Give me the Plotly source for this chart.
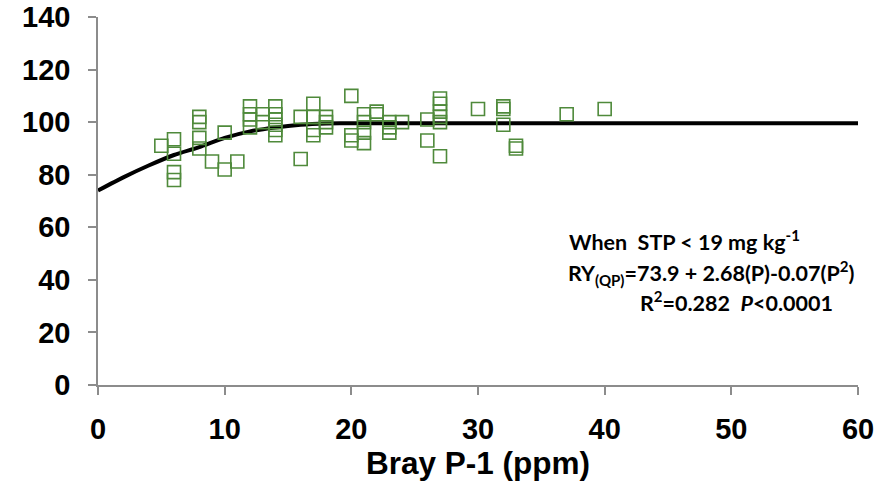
import plotly.graph_objects as go

# Observed points: Bray P-1 (ppm) vs relative yield
bray_p = [5, 6, 6, 6, 6, 8, 8, 8, 8, 9, 10, 10, 11,
          12, 12, 12, 12, 13, 13, 14, 14, 14, 14, 14, 14,
          16, 16, 17, 17, 17, 17, 18, 18, 18,
          20, 20, 20, 21, 21, 21, 21, 22, 22, 23, 23, 23, 24,
          26, 26, 27, 27, 27, 27, 27, 27, 30, 32, 32, 32, 33, 33, 37, 40]
rel_yield = [91, 93.5, 88, 81, 78, 102, 100, 94, 90, 85, 96, 82, 85,
             106, 103, 101, 98, 103, 100, 106, 103, 101, 99, 97, 95,
             102, 86, 107, 102, 97, 95, 102, 100, 98,
             110, 95, 93, 103, 100, 96, 92, 104, 103, 100, 98, 96, 100,
             101, 93, 109, 107, 104, 102, 100, 87, 105, 106, 105, 99, 91, 90, 103, 105]

# Fitted quadratic-plateau curve
curve_p = [0, 2, 4, 6, 8, 10, 12, 14, 16, 18, 19.1, 60]
curve_ry = [74, 79, 83.5, 87.5, 90.5, 94, 96.5, 98, 99, 99.5, 99.6, 99.6]

x_ticks = [0, 10, 20, 30, 40, 50, 60]
y_ticks = [0, 20, 40, 60, 80, 100, 120, 140]

fig = go.Figure()
fig.add_trace(go.Scatter(
    x=curve_p, y=curve_ry, mode="lines",
    line=dict(color="black", width=4, shape="spline", smoothing=0.6),
    hoverinfo="skip", showlegend=False))
fig.add_trace(go.Scatter(
    x=bray_p, y=rel_yield, mode="markers",
    marker=dict(symbol="square-open", size=13, color="#4F8A3B",
                line=dict(width=1.6, color="#4F8A3B")),
    showlegend=False))

tick_font = dict(family="Liberation Sans, Arial, sans-serif", size=29, color="black", weight="bold")
fig.update_xaxes(range=[0, 60], tickvals=x_ticks, showgrid=False, zeroline=False,
                 showline=True, linecolor="#8C8C8C", linewidth=1.5, automargin=False,
                 ticks="outside", ticklen=8, tickcolor="#8C8C8C", tickwidth=1.5,
                 tickfont=tick_font, ticklabelstandoff=9,
                 title=dict(text="Bray P-1 (ppm)", standoff=6,
                            font=dict(family="Liberation Sans, Arial, sans-serif", size=31.5,
                                      color="black", weight="bold")))
fig.update_yaxes(range=[0, 140], tickvals=y_ticks, showgrid=False, zeroline=False,
                 showline=True, linecolor="#8C8C8C", linewidth=1.5, automargin=False,
                 ticks="outside", ticklen=8, tickcolor="#8C8C8C", tickwidth=1.5,
                 tickfont=tick_font, ticklabelstandoff=12)

ann_font = dict(family="Lato, Open Sans, sans-serif", size=21.5, color="black", weight="bold")
fig.add_annotation(x=37.0, y=54.9, xref="x", yref="y", xanchor="left", yanchor="middle",
                   showarrow=False, font=ann_font,
                   text="When  STP &lt; 19 mg kg<sup>-1</sup>")
fig.add_annotation(x=36.95, y=42.5, xref="x", yref="y", xanchor="left", yanchor="middle",
                   showarrow=False, font=ann_font,
                   text="RY<sub>(QP)</sub>=73.9 + 2.68(P)-0.07(P<sup>2</sup>)")
fig.add_annotation(x=42.6, y=31.7, xref="x", yref="y", xanchor="left", yanchor="middle",
                   showarrow=False, font=ann_font,
                   text="R<sup>2</sup>=0.282  <i>P</i>&lt;0.0001")

fig.update_layout(width=881, height=482, margin=dict(l=98, r=23, t=17, b=97),
                  plot_bgcolor="white", paper_bgcolor="white")
fig.write_html("out.html")
